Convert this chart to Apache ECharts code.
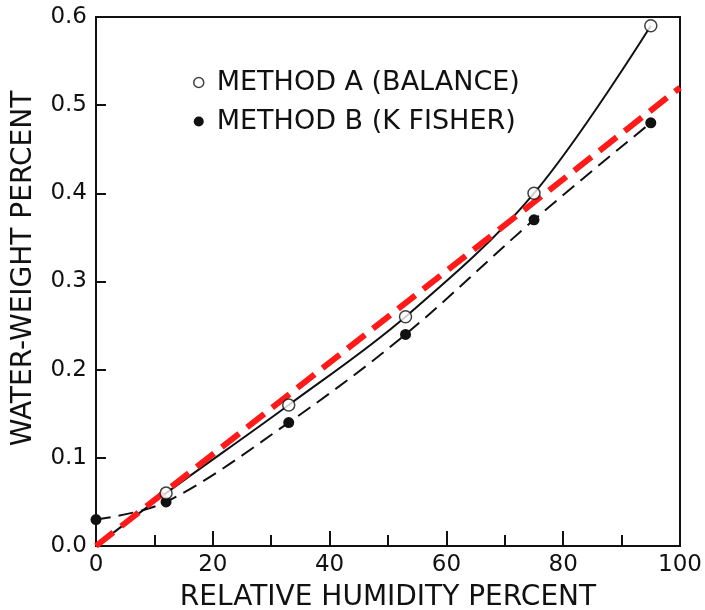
<!DOCTYPE html>
<html>
<head>
<meta charset="utf-8">
<script src="https://cdn.jsdelivr.net/npm/echarts@6/dist/echarts.min.js"></script>
<style>
  html, body { margin: 0; padding: 0; background: #fff; }
  #chart { width: 705px; height: 610px; }
</style>
</head>
<body>
<div id="chart"></div>
<script>
// humidity (%) for measured points
const humidity = [12, 33, 53, 75, 95];
// method A (balance), open circles
const methodA = [0.06, 0.16, 0.26, 0.40, 0.59];
// method B (K Fisher), filled dots, incl. the point at 0 %
const humidityB = [0, 12, 33, 53, 75, 95];
const methodB = [0.03, 0.05, 0.14, 0.24, 0.37, 0.48];
// solid curve for A starts at origin
const curveAx = [0, 12, 33, 53, 75, 95];
const curveAy = [0, 0.06, 0.16, 0.26, 0.40, 0.59];
// red dashed straight line
const redX = [0, 100];
const redY = [0, 0.52];

const xTicks = [0, 20, 40, 60, 80, 100];
const yTicks = [0, 0.1, 0.2, 0.3, 0.4, 0.5, 0.6];

const nameA = 'METHOD A (BALANCE)';
const nameB = 'METHOD B (K FISHER)';
const font = 'DejaVu Sans';

const zip = (xs, ys) => xs.map((x, i) => [x, ys[i]]);

const myChart = echarts.init(document.getElementById('chart'));

myChart.setOption({
  animation: false,
  grid: {
    left: 96, right: 25, top: 17, bottom: 64,
    outerBoundsMode: 'none',
    show: true, borderColor: '#111', borderWidth: 2
  },
  legend: {
    orient: 'vertical',
    left: 188, top: 64,
    itemGap: 12,
    itemWidth: 10, itemHeight: 10,
    textStyle: { fontFamily: font, fontSize: 27, color: '#111', padding: [0, 0, 0, 8] },
    data: [
      { name: nameA, icon: 'circle', itemStyle: { color: '#fff', borderColor: '#111', borderWidth: 1.5 } },
      { name: nameB, icon: 'circle', itemStyle: { color: '#111' } }
    ]
  },
  xAxis: {
    type: 'value',
    min: xTicks[0], max: xTicks[xTicks.length - 1], interval: 20,
    name: 'RELATIVE HUMIDITY PERCENT',
    nameLocation: 'middle', nameGap: 38,
    nameTextStyle: { fontFamily: font, fontSize: 28, color: '#111' },
    axisLine: { lineStyle: { color: '#111', width: 2 } },
    axisTick: { inside: true, length: 15, lineStyle: { color: '#111', width: 2 } },
    minorTick: { show: true, splitNumber: 2, length: 11, lineStyle: { color: '#111', width: 2 } },
    axisLabel: { fontFamily: font, fontSize: 23, color: '#111', margin: 8 },
    splitLine: { show: false }
  },
  yAxis: {
    type: 'value',
    min: yTicks[0], max: yTicks[yTicks.length - 1], interval: 0.1,
    name: 'WATER-WEIGHT PERCENT',
    nameLocation: 'middle', nameGap: 58,
    nameTextStyle: { fontFamily: font, fontSize: 28, color: '#111', padding: [0, 0, 0, 26] },
    axisLine: { lineStyle: { color: '#111', width: 2 } },
    axisTick: { inside: true, length: 10, lineStyle: { color: '#111', width: 2 } },
    axisLabel: {
      fontFamily: font, fontSize: 23, color: '#111', margin: 9,
      formatter: v => v.toFixed(1)
    },
    splitLine: { show: false }
  },
  series: [
    {
      name: 'curveA', type: 'line', smooth: 0.35,
      data: zip(curveAx, curveAy),
      showSymbol: false,
      lineStyle: { color: '#111', width: 2 },
      z: 2
    },
    {
      name: nameB, type: 'line', smooth: 0.35,
      data: zip(humidityB, methodB),
      symbol: 'circle', symbolSize: 11,
      itemStyle: { color: '#111' },
      lineStyle: { color: '#111', width: 2, type: [15, 8] },
      z: 3
    },
    {
      name: 'red', type: 'line',
      data: zip(redX, redY),
      showSymbol: false,
      lineStyle: { color: '#ff1a1a', width: 6, type: [22, 10] },
      z: 4
    },
    {
      name: nameA, type: 'scatter',
      data: zip(humidity, methodA),
      symbol: 'circle', symbolSize: 12,
      itemStyle: { color: '#fff', borderColor: '#111', borderWidth: 1.5 },
      z: 5
    }
  ]
});
</script>
</body>
</html>
